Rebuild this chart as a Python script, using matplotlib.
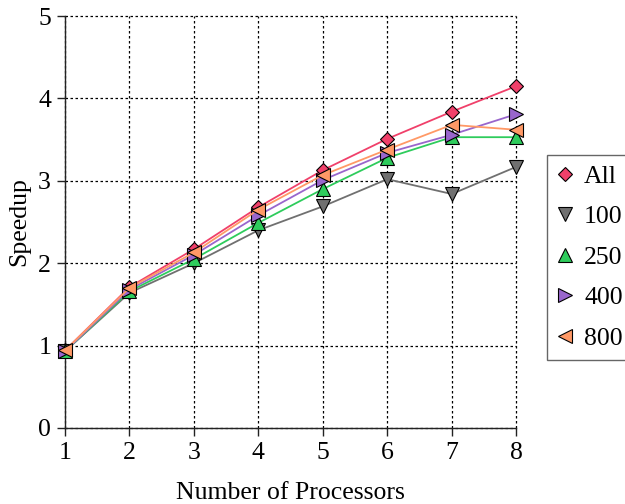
import matplotlib
matplotlib.use("Agg")
import matplotlib.pyplot as plt

plt.rcParams['font.family'] = ['Liberation Serif', 'DejaVu Serif']
plt.rcParams['font.size'] = 18.5

processors = [1, 2, 3, 4, 5, 6, 7, 8]

# speedup per block size
speedup_all = [0.94, 1.71, 2.17, 2.68, 3.13, 3.51, 3.84, 4.15]
speedup_100 = [0.93, 1.64, 2.00, 2.40, 2.69, 3.02, 2.84, 3.17]
speedup_250 = [0.93, 1.66, 2.05, 2.49, 2.90, 3.28, 3.53, 3.53]
speedup_400 = [0.93, 1.68, 2.10, 2.58, 3.01, 3.34, 3.56, 3.81]
speedup_800 = [0.94, 1.70, 2.13, 2.65, 3.07, 3.38, 3.68, 3.62]

labels = ["All", "100", "250", "400", "800"]
series = [speedup_all, speedup_100, speedup_250, speedup_400, speedup_800]
colors = ["#f0406a", "#707070", "#2ecc5c", "#9966cc", "#ff9966"]
markers = ["D", "v", "^", ">", "<"]
sizes = [7, 10, 10, 10, 10]

fig = plt.figure(figsize=(6.25, 5.04), dpi=100)
ax = fig.add_axes([0.104, 0.151, 0.722, 0.817])

for ys, lab, c, m, s in zip(series, labels, colors, markers, sizes):
    ax.plot(processors, ys, color=c, lw=1.3, marker=m, markersize=s,
            markerfacecolor=c, markeredgecolor="black", markeredgewidth=0.8,
            label=lab, clip_on=False, zorder=3)

ax.set_xlim(1, 8)
ax.set_ylim(0, 5)
ax.set_xticks(processors)
ax.set_yticks(range(0, 6))
ax.grid(True, color="black", linestyle=(0, (2, 2)), linewidth=0.9)
for gl in ax.get_xgridlines() + ax.get_ygridlines():
    gl.set_clip_on(False)
ax.set_axisbelow(True)

for side in ["top", "right"]:
    ax.spines[side].set_visible(False)
for side in ["left", "bottom"]:
    ax.spines[side].set_color("#222222")
    ax.spines[side].set_linewidth(1.0)
ax.tick_params(length=6, width=1.0, color="#222222", pad=4)

ax.set_xlabel("Number of Processors", labelpad=13)
ax.set_ylabel("Speedup", labelpad=6)

leg = fig.legend(loc="upper left", bbox_to_anchor=(0.875, 0.693),
                 fancybox=False, edgecolor="#666666", framealpha=1,
                 handlelength=0.6, handletextpad=0.45, borderpad=0.4,
                 borderaxespad=0, labelspacing=0.68)
for h in leg.legend_handles:
    h.set_linestyle("")
leg.get_frame().set_linewidth(1.0)

fig.savefig("out.png", dpi=100)
